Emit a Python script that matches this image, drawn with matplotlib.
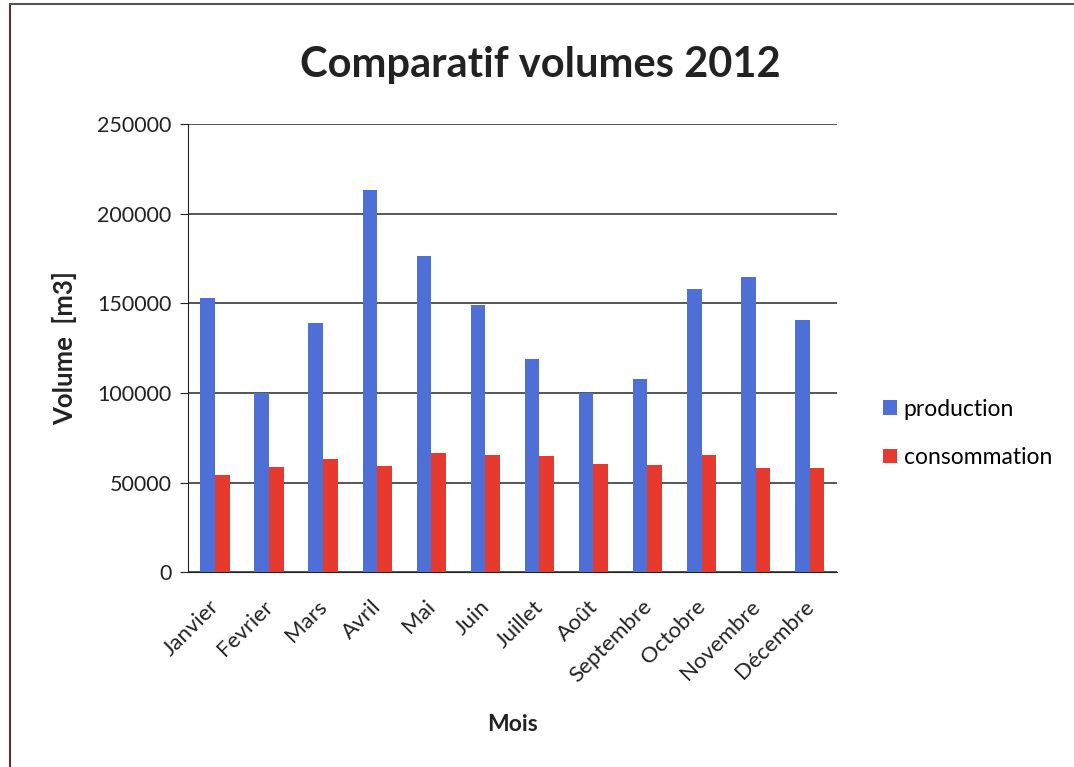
import numpy as np
import matplotlib.pyplot as plt
import matplotlib.transforms as mtransforms
from matplotlib.lines import Line2D

plt.rcParams['font.family'] = ['Lato', 'DejaVu Sans']

mois = ["Janvier", "Fevrier", "Mars", "Avril", "Mai", "Juin", "Juillet",
        "Août", "Septembre", "Octobre", "Novembre", "Décembre"]
production = [153000, 100000, 139000, 213500, 176500, 149000, 119000,
              100000, 108000, 158000, 164500, 141000]
consommation = [54000, 58500, 63000, 59000, 66500, 65500, 65000,
                60500, 60000, 65500, 58000, 58000]

fig = plt.figure(figsize=(10.74, 7.67), dpi=100)
ax = fig.add_axes([0.175, 0.254, 0.604, 0.584])

x = np.arange(len(mois))
w = 0.27
ax.bar(x - w/2, production, w, color="#4d6fd6", label="production", zorder=3)
ax.bar(x + w/2, consommation, w, color="#e63a2e", label="consommation", zorder=3)

ax.set_xlim(-0.5, len(mois) - 0.5)
ax.set_ylim(0, 250000)
ax.set_yticks(range(0, 250001, 50000))
ax.yaxis.grid(True, color="#3a3a3a", linewidth=1.2)
ax.set_axisbelow(True)
for s in ["top", "right"]:
    ax.spines[s].set_visible(False)
ax.spines["left"].set_color("#222222")
ax.spines["bottom"].set_color("#222222")

ax.set_xticks(x)
ax.set_xticklabels(mois, rotation=45, ha="right", rotation_mode="anchor",
                   fontsize=16, color="#222222")
ax.tick_params(axis="x", length=0, pad=14)
ax.tick_params(axis="y", labelsize=15.5, length=6, color="#222222",
               labelcolor="#222222", pad=6)
# petit decalage des mois vers la gauche et vers le bas
shift = mtransforms.ScaledTranslation(-6/100, -5/100, fig.dpi_scale_trans)
for lab in ax.get_xticklabels():
    lab.set_transform(lab.get_transform() + shift)

ax.set_ylabel("Volume  [m3]", fontsize=18.5, fontweight="bold", labelpad=14,
              color="#222222")
ax.set_xlabel("Mois", fontsize=16.5, fontweight="bold", labelpad=20,
              color="#222222")
fig.text(0.503, 0.915, "Comparatif volumes 2012", ha="center", va="center",
         fontsize=30, fontweight="bold", color="#222222")

fig.legend(loc="center left", bbox_to_anchor=(0.803, 0.435), frameon=False,
           fontsize=16.5, handlelength=0.6, handleheight=0.6, labelspacing=1.2,
           handletextpad=0.3)

# cadre du graphique
fig.add_artist(Line2D([0.009, 0.009], [0.0, 0.995], color="#5a3030", lw=1.5))
fig.add_artist(Line2D([0.009, 1.0], [0.995, 0.995], color="#555555", lw=1.5))

fig.savefig("out.png", dpi=100)
